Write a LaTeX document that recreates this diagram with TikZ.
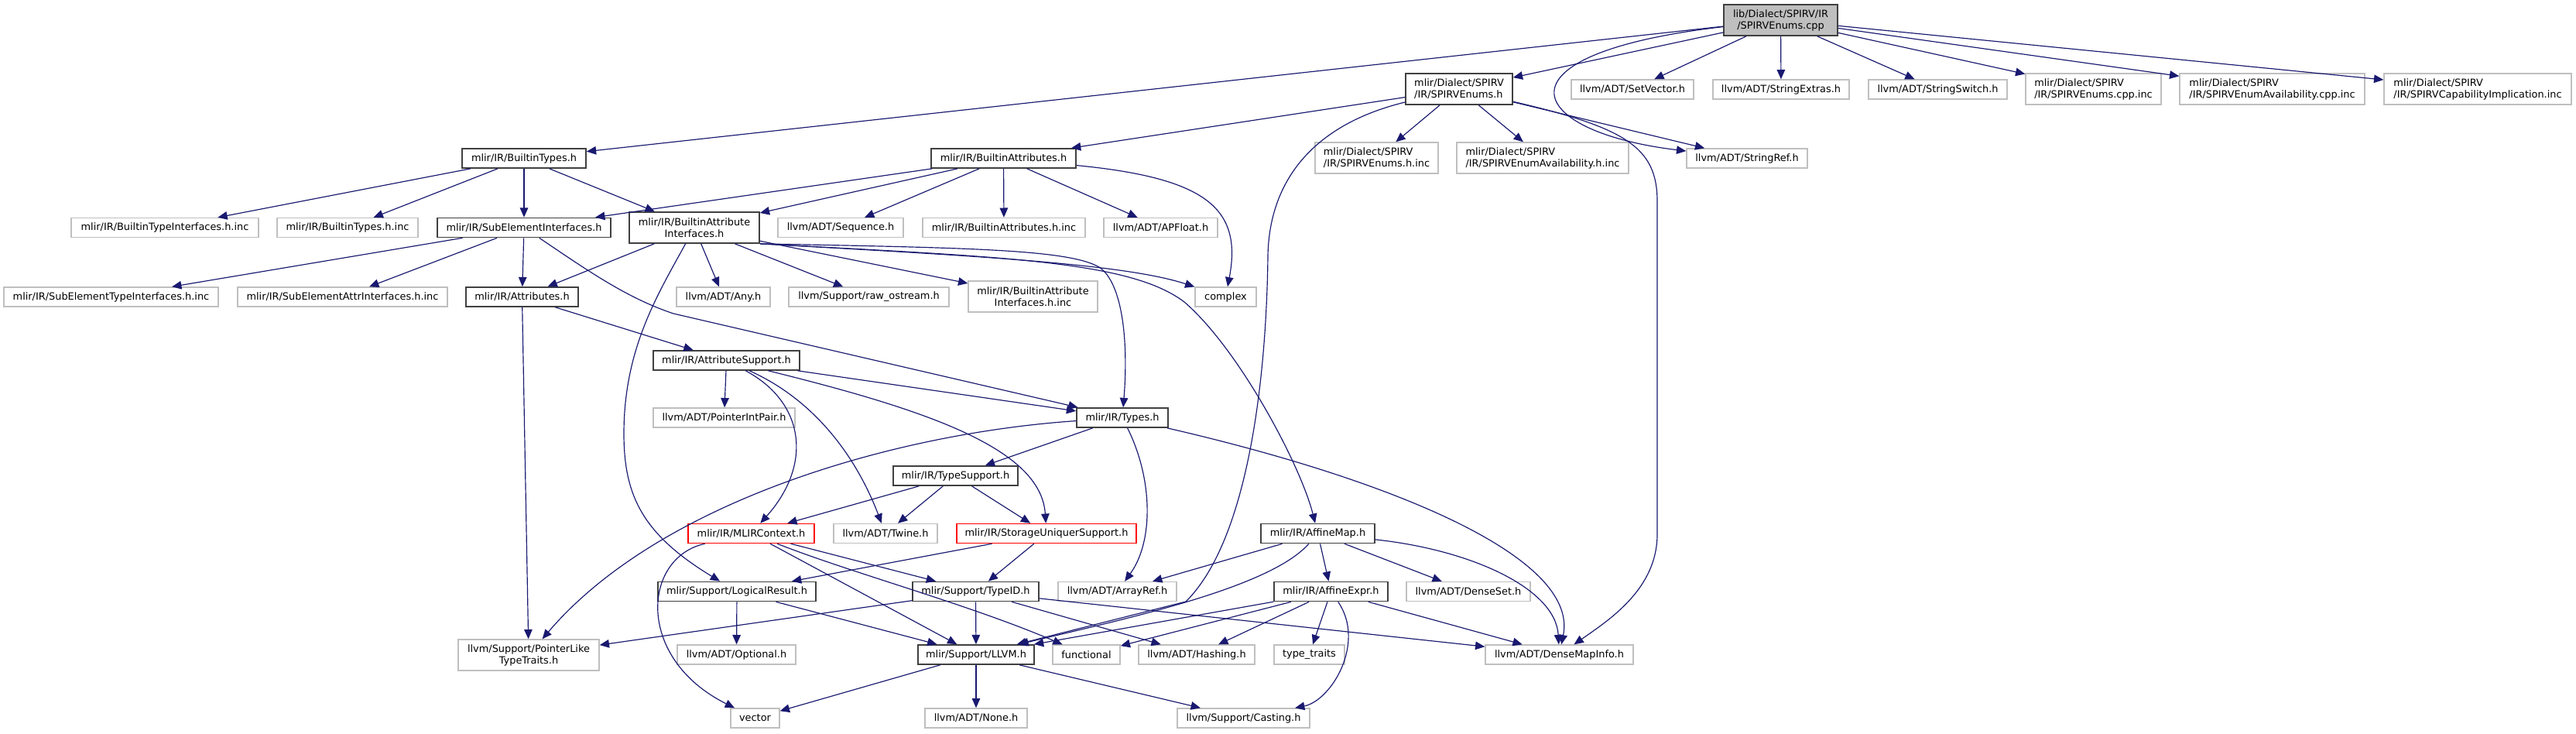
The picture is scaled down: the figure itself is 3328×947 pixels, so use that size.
\documentclass[tikz,border=0pt]{standalone}
\usepackage{fontspec}
\setmainfont{DejaVu Sans}
\usetikzlibrary{arrows.meta}
\definecolor{edgeblue}{HTML}{191970}
\definecolor{docframe}{HTML}{404040}
\definecolor{sysframe}{HTML}{BFBFBF}
\definecolor{rootfill}{HTML}{BFBFBF}

\begin{document}
\begin{tikzpicture}[
    x=0.03cm, y=-0.03cm,
    every node/.style={font=\fontsize{11}{12.8}\selectfont, inner sep=0pt, align=center},
    boxroot/.style={draw=docframe, fill=rootfill, line width=1.4pt, minimum height=40*0.03cm},
    boxdoc/.style={draw=docframe, fill=white, line width=1.4pt, minimum height=25*0.03cm},
    boxsys/.style={draw=sysframe, fill=white, line width=1.2pt, minimum height=25*0.03cm},
    boxtrunc/.style={draw=red, fill=white, line width=1.2pt, minimum height=25*0.03cm},
    tall/.style={minimum height=40*0.03cm},
    wd/.style={minimum width=#1*0.03cm},
    arr/.style={-{Triangle[length=10.5pt,width=9pt]}, line width=1pt, edgeblue},
  ]
  \useasboundingbox (0,0) rectangle (3328,947);

  % === Source file ===
  \node[boxroot, wd=147] (root) at (2300.5,26) {lib/Dialect/SPIRV/IR\\/SPIRVEnums.cpp};

  % === Row 1 ===
  \node[boxdoc, tall, wd=138, align=left] (enumsh)      at (1885,115)    {mlir/Dialect/SPIRV\\/IR/SPIRVEnums.h};
  \node[boxsys, wd=158]                   (setvector)   at (2109,115.5)  {llvm/ADT/SetVector.h};
  \node[boxsys, wd=176]                   (strextras)   at (2301,115.5)  {llvm/ADT/StringExtras.h};
  \node[boxsys, wd=179]                   (strswitch)   at (2503.5,115.5) {llvm/ADT/StringSwitch.h};
  \node[boxsys, tall, wd=175, align=left] (enumscppinc) at (2704.5,115)  {mlir/Dialect/SPIRV\\/IR/SPIRVEnums.cpp.inc};
  \node[boxsys, tall, wd=239, align=left] (availcppinc) at (2935.5,115)  {mlir/Dialect/SPIRV\\/IR/SPIRVEnumAvailability.cpp.inc};
  \node[boxsys, tall, wd=242, align=left] (capinc)      at (3201,115)    {mlir/Dialect/SPIRV\\/IR/SPIRVCapabilityImplication.inc};

  % === Row 2 ===
  \node[boxdoc, wd=160]                   (btypes)      at (677,204.5)   {mlir/IR/BuiltinTypes.h};
  \node[boxdoc, wd=187]                   (battrs)      at (1296.5,204.5) {mlir/IR/BuiltinAttributes.h};
  \node[boxsys, tall, wd=159, align=left] (enumshinc)   at (1778.5,204)  {mlir/Dialect/SPIRV\\/IR/SPIRVEnums.h.inc};
  \node[boxsys, tall, wd=222, align=left] (availhinc)   at (1993,204)    {mlir/Dialect/SPIRV\\/IR/SPIRVEnumAvailability.h.inc};
  \node[boxsys, wd=156]                   (stringref)   at (2257,204.5)  {llvm/ADT/StringRef.h};

  % === Row 3 ===
  \node[boxsys, wd=242]       (btypeifinc) at (213,294)    {mlir/IR/BuiltinTypeInterfaces.h.inc};
  \node[boxsys, wd=182]       (btypesinc)  at (449,294)    {mlir/IR/BuiltinTypes.h.inc};
  \node[boxdoc, wd=224]       (subelem)    at (677,294)    {mlir/IR/SubElementInterfaces.h};
  \node[boxdoc, tall, wd=168] (battrif)    at (897,294)    {mlir/IR/BuiltinAttribute\\Interfaces.h};
  \node[boxsys, wd=162]       (sequence)   at (1086,294)   {llvm/ADT/Sequence.h};
  \node[boxsys, wd=210]       (battrsinc)  at (1297,294)   {mlir/IR/BuiltinAttributes.h.inc};
  \node[boxsys, wd=147]       (apfloat)    at (1499.5,294) {llvm/ADT/APFloat.h};

  % === Row 4 ===
  \node[boxsys, wd=277]       (subtypeinc) at (143.5,383.5)  {mlir/IR/SubElementTypeInterfaces.h.inc};
  \node[boxsys, wd=271]       (subattrinc) at (442.5,383.5)  {mlir/IR/SubElementAttrInterfaces.h.inc};
  \node[boxdoc, wd=145]       (attributes) at (674.5,383.5)  {mlir/IR/Attributes.h};
  \node[boxsys, wd=121]       (any)        at (934.5,383.5)  {llvm/ADT/Any.h};
  \node[boxsys, wd=207]       (rawostream) at (1122.5,383.5) {llvm/Support/raw\_ostream.h};
  \node[boxsys, tall, wd=167] (battrifinc) at (1334.5,383)   {mlir/IR/BuiltinAttribute\\Interfaces.h.inc};
  \node[boxsys, wd=79]        (complex)    at (1583.5,383.5) {complex};

  % === Middle rows ===
  \node[boxdoc, wd=189]   (attrsupport) at (938.5,465.5)  {mlir/IR/AttributeSupport.h};
  \node[boxsys, wd=183]   (ptrintpair)  at (935.5,539.5)  {llvm/ADT/PointerIntPair.h};
  \node[boxdoc, wd=118]   (types)       at (1450,539.5)   {mlir/IR/Types.h};
  \node[boxdoc, wd=161]   (typesupport) at (1234.5,614.5) {mlir/IR/TypeSupport.h};
  \node[boxtrunc, wd=163] (mlircontext) at (970.5,689)    {mlir/IR/MLIRContext.h};
  \node[boxsys, wd=134]   (twine)       at (1144,689)     {llvm/ADT/Twine.h};
  \node[boxtrunc, wd=232] (storage)     at (1352,689)     {mlir/IR/StorageUniquerSupport.h};
  \node[boxdoc, wd=147]   (affinemap)   at (1702.5,689)   {mlir/IR/AffineMap.h};
  \node[boxdoc, wd=204]   (logical)     at (952,764)      {mlir/Support/LogicalResult.h};
  \node[boxdoc, wd=163]   (typeid)      at (1260.5,764)   {mlir/Support/TypeID.h};
  \node[boxsys, wd=153]   (arrayref)    at (1443.5,764)   {llvm/ADT/ArrayRef.h};
  \node[boxdoc, wd=147]   (affineexpr)  at (1719.5,764)   {mlir/IR/AffineExpr.h};
  \node[boxsys, wd=160]   (denseset)    at (1897,764)     {llvm/ADT/DenseSet.h};

  % === Bottom rows ===
  \node[boxsys, tall, wd=182] (ptrlike)      at (683,846)      {llvm/Support/PointerLike\\TypeTraits.h};
  \node[boxsys, wd=153]       (optional)     at (951.5,845.5)  {llvm/ADT/Optional.h};
  \node[boxdoc, wd=150]       (llvmh)        at (1261,845.5)   {mlir/Support/LLVM.h};
  \node[boxsys, wd=87]        (functional)   at (1403.5,845.5) {functional};
  \node[boxsys, wd=150]       (hashing)      at (1546,845.5)   {llvm/ADT/Hashing.h};
  \node[boxsys, wd=91]        (typetraits)   at (1691.5,845.5) {type\_traits};
  \node[boxsys, wd=191]       (densemapinfo) at (2014.5,845.5) {llvm/ADT/DenseMapInfo.h};
  \node[boxsys, wd=63]        (vector)       at (975.5,927.5)  {vector};
  \node[boxsys, wd=132]       (none)         at (1261,927.5)   {llvm/ADT/None.h};
  \node[boxsys, wd=171]       (casting)      at (1606.5,927.5) {llvm/Support/Casting.h};

  % === From the source file ===
  \draw[arr] (root) -- (btypes);
  \draw[arr] (root) -- (enumsh);
  \draw[arr] (root) .. controls (1920,70) and (1970,170) .. (stringref);
  \draw[arr] (root) -- (setvector);
  \draw[arr] (root) -- (strextras);
  \draw[arr] (root) -- (strswitch);
  \draw[arr] (root) -- (enumscppinc);
  \draw[arr] (root) -- (availcppinc);
  \draw[arr] (root) -- (capinc);

  % === SPIRVEnums.h ===
  \draw[arr] (enumsh) -- (battrs);
  \draw[arr] (enumsh) -- (enumshinc);
  \draw[arr] (enumsh) -- (availhinc);
  \draw[arr] (enumsh) -- (stringref);
  \draw[arr] (enumsh) .. controls (2100,165) and (2141,190) .. (2141,260)
             -- (2141,690) .. controls (2141,760) and (2080,800) .. (densemapinfo);
  \draw[arr] (enumsh) .. controls (1700,160) and (1640,230) .. (1638,330)
             .. controls (1636,500) and (1610,700) .. (1532,777) -- (llvmh);

  % === BuiltinTypes.h / BuiltinAttributes.h ===
  \draw[arr] (btypes) -- (btypeifinc);
  \draw[arr] (btypes) -- (btypesinc);
  \draw[arr] (btypes) -- (subelem);
  \draw[arr] (btypes) -- (battrif);
  \draw[arr] (battrs) -- (subelem);
  \draw[arr] (battrs) -- (battrif);
  \draw[arr] (battrs) -- (sequence);
  \draw[arr] (battrs) -- (battrsinc);
  \draw[arr] (battrs) -- (apfloat);
  \draw[arr] (battrs) .. controls (1560,230) and (1605,270) .. (complex);

  % === SubElementInterfaces.h ===
  \draw[arr] (subelem) -- (subtypeinc);
  \draw[arr] (subelem) -- (subattrinc);
  \draw[arr] (subelem) -- (attributes);
  \draw[arr] (subelem) .. controls (760,350) and (810,385) .. (870,405) -- (types);

  % === BuiltinAttributeInterfaces.h ===
  \draw[arr] (battrif) -- (attributes);
  \draw[arr] (battrif) -- (any);
  \draw[arr] (battrif) -- (rawostream);
  \draw[arr] (battrif) -- (battrifinc);
  \draw[arr] (battrif.south east) .. controls (1250,330) and (1450,340) .. (complex);
  \draw[arr] (battrif.south east) .. controls (1250,320) and (1380,322) .. (1420,345)
             .. controls (1450,365) and (1458,440) .. (types);
  \draw[arr] (battrif.south east) .. controls (1300,332) and (1460,337) .. (1530,390)
             .. controls (1600,450) and (1680,600) .. (affinemap);
  \draw[arr] (battrif) .. controls (850,380) and (806,450) .. (806,560)
             .. controls (806,640) and (830,690) .. (logical);

  % === Attributes.h / AttributeSupport.h ===
  \draw[arr] (attributes) -- (ptrlike);
  \draw[arr] (attributes) -- (attrsupport);
  \draw[arr] (attrsupport) -- (ptrintpair);
  \draw[arr] (attrsupport) -- (types);
  \draw[arr] (attrsupport) .. controls (1040,520) and (1050,600) .. (mlircontext);
  \draw[arr] (attrsupport) .. controls (1060,520) and (1110,600) .. (twine);
  \draw[arr] (attrsupport) .. controls (1200,530) and (1345,580) .. (storage);

  % === Types.h / TypeSupport.h ===
  \draw[arr] (types) .. controls (1150,560) and (850,650) .. (ptrlike);
  \draw[arr] (types) -- (typesupport);
  \draw[arr] (types) .. controls (1490,620) and (1490,700) .. (arrayref);
  \draw[arr] (types) .. controls (1800,620) and (2040,720) .. (densemapinfo);
  \draw[arr] (typesupport) -- (mlircontext);
  \draw[arr] (typesupport) -- (twine);
  \draw[arr] (typesupport) -- (storage);

  % === MLIRContext.h / StorageUniquerSupport.h ===
  \draw[arr] (mlircontext) .. controls (830,720) and (820,850) .. (vector);
  \draw[arr] (mlircontext) -- (llvmh);
  \draw[arr] (mlircontext) .. controls (1100,740) and (1250,780) .. (functional);
  \draw[arr] (mlircontext) -- (typeid);
  \draw[arr] (storage) -- (logical);
  \draw[arr] (storage) -- (typeid);

  % === AffineMap.h / AffineExpr.h ===
  \draw[arr] (affinemap) -- (arrayref);
  \draw[arr] (affinemap) .. controls (1640,760) and (1450,800) .. (llvmh);
  \draw[arr] (affinemap) -- (affineexpr);
  \draw[arr] (affinemap) -- (denseset);
  \draw[arr] (affinemap) .. controls (1900,710) and (2010,760) .. (densemapinfo);
  \draw[arr] (affineexpr) -- (llvmh);
  \draw[arr] (affineexpr) -- (functional);
  \draw[arr] (affineexpr) -- (hashing);
  \draw[arr] (affineexpr) -- (typetraits);
  \draw[arr] (affineexpr) -- (densemapinfo);
  \draw[arr] (affineexpr) .. controls (1765,830) and (1720,905) .. (casting);

  % === LogicalResult.h / TypeID.h / LLVM.h ===
  \draw[arr] (logical) -- (optional);
  \draw[arr] (logical) -- (llvmh);
  \draw[arr] (typeid) -- (llvmh);
  \draw[arr] (typeid) -- (ptrlike);
  \draw[arr] (typeid) -- (hashing);
  \draw[arr] (typeid) -- (densemapinfo);
  \draw[arr] (llvmh) -- (vector);
  \draw[arr] (llvmh) -- (none);
  \draw[arr] (llvmh) -- (casting);

\end{tikzpicture}
\end{document}
